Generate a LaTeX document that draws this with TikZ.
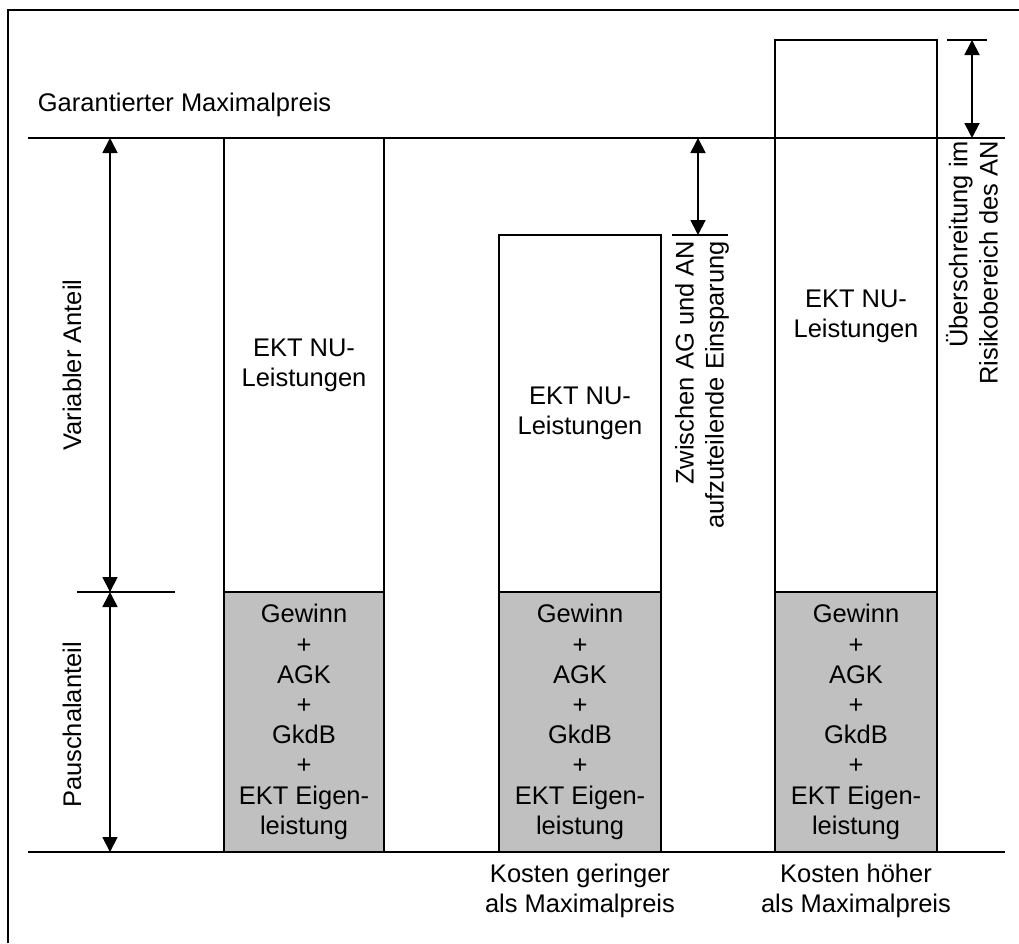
\documentclass[tikz,border=0pt]{standalone}
\usepackage{fontspec}
\setmainfont{Liberation Sans}
\usetikzlibrary{arrows.meta}
\begin{document}
\begin{tikzpicture}[x=1pt,y=-1pt,line width=1.8pt,
  lbl/.style={font=\fontsize{25.5}{30.2}\selectfont, inner sep=0pt, align=center},
  vlbl/.style={lbl, rotate=90},
  dim/.style={{Triangle[length=15pt,width=15pt]}-{Triangle[length=15pt,width=15pt]}},
  white box/.style={draw, fill=white},
  grey box/.style={draw, fill={rgb,255:red,192;green,192;blue,192}}]
\useasboundingbox (0,0) rectangle (1019,943);
% frame
\draw (8,943) -- (8,10) -- (1019,10);
% boxes
\draw[white box] (224,138) rectangle (384,592);
\draw[grey box]  (224,592) rectangle (384,852);
\draw[white box] (499,235) rectangle (661,592);
\draw[grey box]  (499,592) rectangle (661,852);
\draw[white box] (775,40) rectangle (937,592);
\draw[grey box]  (775,592) rectangle (937,852);
% reference lines
\coordinate (mpL) at (28,138);
\coordinate (mpR) at (1005,138);
\coordinate (bsL) at (28,852);
\coordinate (bsR) at (1005,852);
\draw (mpL) -- (mpR);
\draw (bsL) -- (bsR);
% left dimension
\coordinate (tkL) at (77,592);
\coordinate (tkR) at (175,592);
\draw (tkL) -- (tkR);
\coordinate (va) at (110,138);
\coordinate (vb) at (110,592);
\coordinate (pb) at (110,852);
\draw[dim] (va) -- (vb);
\draw[dim] (vb) -- (pb);
% middle dimension
\coordinate (m1) at (672,235);
\coordinate (m2) at (728,235);
\draw (m1) -- (m2);
\coordinate (ma) at (698,138);
\coordinate (mb) at (698,235);
\draw[dim] (ma) -- (mb);
% right dimension
\coordinate (r1) at (947,40);
\coordinate (r2) at (987,40);
\draw (r1) -- (r2);
\coordinate (ra) at (972,40);
\coordinate (rb) at (972,138);
\draw[dim] (ra) -- (rb);
% texts
\node[lbl, anchor=base west] (gmp) at (37,111) {Garantierter Maximalpreis};
\node[vlbl] (var) at (72,365) {Variabler Anteil};
\node[vlbl] (pau) at (72,725) {Pauschalanteil};
\node[lbl] (nu1) at (304,365) {EKT NU-\\Leistungen};
\node[lbl] (nu2) at (580,413) {EKT NU-\\Leistungen};
\node[lbl] (nu3) at (856,316) {EKT NU-\\Leistungen};
\node[lbl] (g1) at (304,722) {Gewinn\\+\\AGK\\+\\GkdB\\+\\EKT Eigen-\\leistung};
\node[lbl] (g2) at (580,722) {Gewinn\\+\\AGK\\+\\GkdB\\+\\EKT Eigen-\\leistung};
\node[lbl] (g3) at (856,722) {Gewinn\\+\\AGK\\+\\GkdB\\+\\EKT Eigen-\\leistung};
\node[vlbl, align=right, anchor=east] (ein) at (702,240) {Zwischen AG und AN\\aufzuteilende Einsparung};
\node[vlbl, align=right, anchor=east] (ueb) at (972,140) {Überschreitung im\\Risikobereich des AN};
\node[lbl] (k1) at (580,891) {Kosten geringer\\als Maximalpreis};
\node[lbl] (k2) at (856,891) {Kosten höher\\als Maximalpreis};
\end{tikzpicture}
\end{document}
